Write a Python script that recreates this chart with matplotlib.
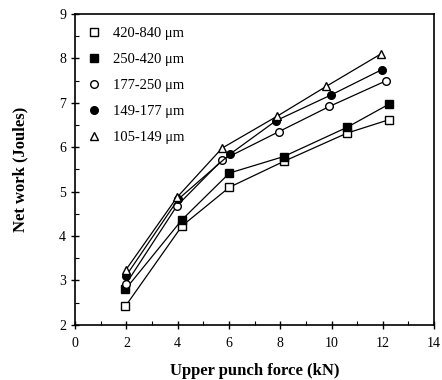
import matplotlib
matplotlib.use("Agg")
import matplotlib.pyplot as plt
from matplotlib.ticker import MultipleLocator

labels = ["420-840 μm", "250-420 μm", "177-250 μm", "149-177 μm", "105-149 μm"]
x_open_sq = [1.96, 4.17, 6.02, 8.13, 10.61, 12.24]
y_open_sq = [2.42, 4.23, 5.10, 5.68, 6.32, 6.62]
x_fill_sq = [1.96, 4.17, 6.02, 8.13, 10.61, 12.24]
y_fill_sq = [2.80, 4.37, 5.42, 5.79, 6.45, 6.97]
x_open_ci = [1.98, 3.97, 5.73, 7.94, 9.92, 12.14]
y_open_ci = [2.92, 4.68, 5.71, 6.35, 6.92, 7.50]
x_fill_ci = [1.98, 4.02, 6.05, 7.84, 9.99, 11.97]
y_fill_ci = [3.10, 4.83, 5.85, 6.60, 7.18, 7.75]
x_tri = [1.98, 3.97, 5.73, 7.88, 9.79, 11.95]
y_tri = [3.24, 4.87, 5.98, 6.70, 7.37, 8.11]

series = [
    (x_open_sq, y_open_sq, "s", "white"),
    (x_fill_sq, y_fill_sq, "s", "black"),
    (x_open_ci, y_open_ci, "o", "white"),
    (x_fill_ci, y_fill_ci, "o", "black"),
    (x_tri, y_tri, "^", "white"),
]

plt.rcParams['font.family'] = ['Liberation Serif', 'DejaVu Serif']
fig = plt.figure(figsize=(4.42, 3.80), dpi=100)
ax = fig.add_axes([0.170, 0.145, 0.812, 0.818])

for (xs, ys, m, fc), lab in zip(series, labels):
    ax.plot(xs, ys, color="black", lw=0.9, marker=m, markersize=5.5,
            markerfacecolor=fc, markeredgecolor="black", markeredgewidth=1.0,
            label=lab)

ax.set_xlim(0, 14)
ax.set_ylim(2, 9)
ax.xaxis.set_major_locator(MultipleLocator(2))
ax.xaxis.set_minor_locator(MultipleLocator(1))
ax.yaxis.set_major_locator(MultipleLocator(1))
ax.yaxis.set_minor_locator(MultipleLocator(0.5))
ax.tick_params(which="major", direction="inout", length=6, width=1, labelsize=10)
ax.tick_params(axis="x", which="major", pad=6)
ax.tick_params(which="minor", direction="in", length=3, width=0.8)
for s in ax.spines.values():
    s.set_linewidth(1.2)

ax.set_xlabel("Upper punch force (kN)", fontweight="bold", fontsize=12, labelpad=9)
ax.set_ylabel("Net work (Joules)", fontweight="bold", fontsize=12, labelpad=22)

leg = ax.legend(loc="upper left", frameon=False, fontsize=10.5,
                bbox_to_anchor=(0.0, 1.0), labelspacing=0.87,
                handlelength=0.8, handletextpad=0.9, borderpad=0.4)
for h in leg.legend_handles:
    h.set_linestyle("none")

fig.savefig("out.png", dpi=100)
